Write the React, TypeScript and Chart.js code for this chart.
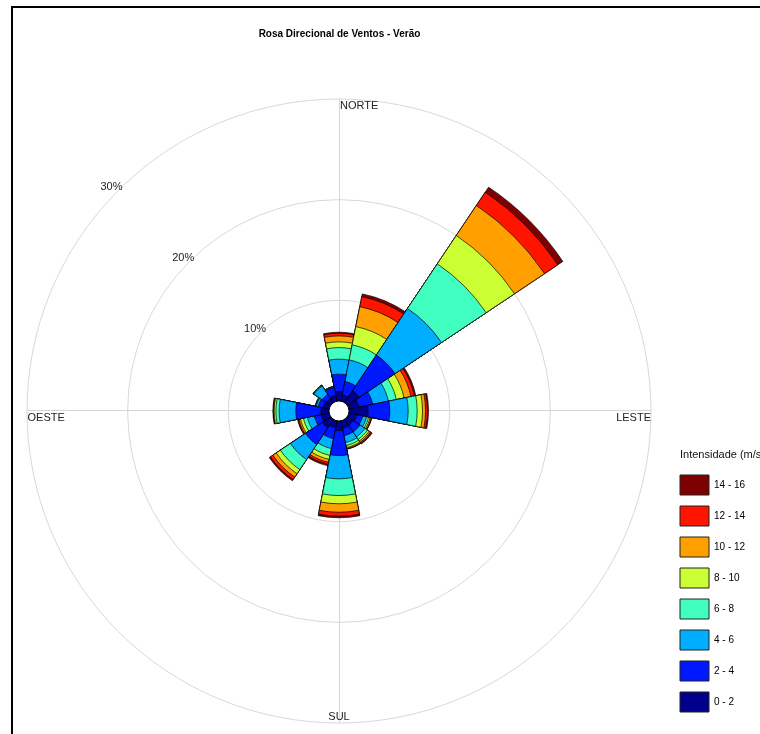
import React, { useEffect, useRef } from 'react';
import { Chart, registerables } from 'chart.js';

Chart.register(...registerables);

const FONT = 'Arial, "Liberation Sans", Helvetica, sans-serif';

const chartTitle = 'Rosa Direcional de Ventos - Verão';
const legendTitle = 'Intensidade (m/s)';

// 16 wind directions, clockwise from north
const directions = ['N', 'NNE', 'NE', 'ENE', 'E', 'ESE', 'SE', 'SSE', 'S', 'SSW', 'SW', 'WSW', 'W', 'WNW', 'NW', 'NNW'];
const cardinalLabels = ['NORTE', 'LESTE', 'SUL', 'OESTE'];

const speedBins = ['0 - 2', '2 - 4', '4 - 6', '6 - 8', '8 - 10', '10 - 12', '12 - 14', '14 - 16'];
const binColors = ['#00008C', '#0018FF', '#00AEFF', '#40FFC0', '#CCFF33', '#FF9F00', '#FF1400', '#7F0000'];

const ringValues = [10, 20, 30];
const ringLabels = ['10%', '20%', '30%'];

// frequency (%) per direction for each speed class
const f0_2 = [0.93, 0.64, 1.42, 1.02, 1.90, 0.80, 0.70, 0.75, 0.94, 0.70, 1.00, 0.80, 0.80, 0.60, 0.50, 0.60];
const f2_4 = [1.73, 1.35, 4.27, 1.39, 2.15, 0.60, 0.80, 0.75, 2.49, 1.10, 2.00, 0.70, 2.49, 0.50, 0.50, 0.80];
const f4_6 = [1.49, 2.19, 5.56, 1.59, 1.82, 0.40, 0.60, 0.70, 2.31, 1.00, 1.80, 0.70, 1.66, 0.20, 1.00, 0.05];
const f6_8 = [1.15, 1.52, 5.33, 0.80, 0.90, 0.20, 0.30, 0.30, 1.66, 0.70, 1.20, 0.40, 0.32, 0.05, 0.05, 0.03];
const f8_10 = [0.57, 1.85, 3.39, 0.79, 0.53, 0.15, 0.20, 0.20, 0.82, 0.40, 0.50, 0.30, 0.17, 0.03, 0.03, 0.02];
const f10_12 = [0.59, 2.02, 3.59, 0.70, 0.30, 0.10, 0.15, 0.10, 0.84, 0.30, 0.40, 0.15, 0.05, 0.02, 0.02, 0.0];
const f12_14 = [0.27, 1.02, 1.59, 0.34, 0.19, 0.05, 0.12, 0.05, 0.39, 0.20, 0.30, 0.10, 0.03, 0.0, 0.0, 0.0];
const f14_16 = [0.10, 0.27, 0.60, 0.15, 0.10, 0.03, 0.08, 0.03, 0.16, 0.15, 0.13, 0.05, 0.05, 0.0, 0.0, 0.0];

const binSeries = [f0_2, f2_4, f4_6, f6_8, f8_10, f10_12, f12_14, f14_16];

const roseDecor = {
  id: 'roseDecor',
  beforeDatasetsDraw(chart: any) {
    const s = chart.scales.r;
    const ctx = chart.ctx;
    const R = s.getDistanceFromCenterForValue(s.max);
    const cx = s.xCenter + 0.5;
    const cy = s.yCenter - 0.5;
    ctx.save();
    ctx.strokeStyle = '#d6d6d6';
    ctx.lineWidth = 1;
    for (let k = 0; k < 4; k++) {
      const a = (k * Math.PI) / 2 - Math.PI / 2;
      ctx.beginPath();
      ctx.moveTo(cx, cy);
      ctx.lineTo(cx + R * Math.cos(a), cy + R * Math.sin(a));
      ctx.stroke();
    }
    ctx.restore();
  },
  afterDatasetsDraw(chart: any) {
    const s = chart.scales.r;
    const ctx = chart.ctx;
    const cx = s.xCenter;
    const cy = s.yCenter;
    const R = s.getDistanceFromCenterForValue(s.max);
    ctx.save();
    // calm circle
    const r0 = s.getDistanceFromCenterForValue(0);
    ctx.beginPath();
    ctx.arc(cx, cy, r0, 0, Math.PI * 2);
    ctx.fillStyle = '#ffffff';
    ctx.fill();
    ctx.lineWidth = 1;
    ctx.strokeStyle = '#000';
    ctx.stroke();

    // ring labels along the north-west diagonal
    ctx.font = '11px ' + FONT;
    ctx.fillStyle = '#222';
    ctx.textAlign = 'center';
    ctx.textBaseline = 'middle';
    const ang = (-45.5 * Math.PI) / 180;
    ringValues.forEach((v, i) => {
      const d = s.getDistanceFromCenterForValue(v) + 7;
      ctx.fillText(ringLabels[i], cx + d * Math.sin(ang), cy - d * Math.cos(ang));
    });

    // cardinal labels
    ctx.textBaseline = 'alphabetic';
    ctx.textAlign = 'left';
    ctx.fillText(cardinalLabels[0], cx + 1, cy - R + 9.5);
    ctx.textAlign = 'right';
    ctx.fillText(cardinalLabels[1], cx + R, cy + 9.5);
    ctx.textAlign = 'center';
    ctx.fillText(cardinalLabels[2], cx, cy + R - 3);
    ctx.textAlign = 'left';
    ctx.fillText(cardinalLabels[3], cx - R + 0.5, cy + 9.5);

    // legend title
    const lg = chart.legend;
    ctx.textAlign = 'left';
    ctx.textBaseline = 'middle';
    ctx.fillStyle = '#111';
    ctx.fillText(legendTitle, lg.left + 11, 455);
    ctx.restore();
  },
};

export default function App() {
  const canvasRef = useRef<HTMLCanvasElement | null>(null);

  useEffect(() => {
    if (!canvasRef.current) return;
    const cumulative: number[][] = [];
    binSeries.forEach((arr, b) => {
      cumulative.push(arr.map((v, i) => (b === 0 ? v : cumulative[b - 1][i] + v)));
    });

    const chart = new Chart(canvasRef.current, {
      type: 'polarArea',
      data: {
        labels: directions,
        datasets: speedBins.map((bin, b) => ({
          label: bin,
          data: cumulative[b],
          backgroundColor: binColors[b],
          borderColor: '#000',
          borderWidth: 0.7,
        })),
      },
      options: {
        responsive: false,
        devicePixelRatio: 1,
        animation: false,
        events: [],
        layout: { padding: { left: 10, right: 11, top: 0, bottom: 11 } },
        scales: {
          r: {
            type: 'radialLinear',
            min: -1,
            max: 30,
            startAngle: -11.25,
            ticks: { display: false, stepSize: 10 },
            grid: {
              circular: true,
              lineWidth: 1,
              color: (c: any) => (c.tick && c.tick.value > 0 ? '#d8d8d8' : 'rgba(0,0,0,0)'),
            },
            angleLines: { display: false },
            pointLabels: { display: false },
          },
        },
        plugins: {
          title: {
            display: true,
            text: chartTitle,
            fullSize: false,
            color: '#000',
            font: { family: FONT, size: 10, weight: 'bold' },
            padding: { top: 28, bottom: 59 },
          },
          legend: {
            position: 'right',
            align: 'end',
            maxWidth: 80,
            labels: {
              boxWidth: 29,
              boxHeight: 20,
              padding: 11,
              color: '#111',
              font: { family: FONT, size: 10 },
              generateLabels: () =>
                speedBins
                  .map((bin, b) => ({
                    text: bin,
                    fillStyle: binColors[b],
                    strokeStyle: '#222',
                    lineWidth: 1,
                    hidden: false,
                    datasetIndex: b,
                  }))
                  .reverse(),
            },
          },
          tooltip: { enabled: false },
        },
      } as any,
      plugins: [roseDecor],
    });
    return () => chart.destroy();
  }, []);

  return (
    <div
      style={{
        position: 'fixed',
        left: 0,
        top: 0,
        width: 760,
        height: 734,
        overflow: 'hidden',
        background: '#fff',
      }}
    >
      <div
        style={{
          position: 'absolute',
          left: 11,
          top: 6,
          width: 1000,
          height: 1000,
          borderLeft: '2px solid #000',
          borderTop: '2px solid #000',
        }}
      />
      <canvas ref={canvasRef} width={760} height={734} style={{ position: 'absolute', left: 0, top: 0 }} />
    </div>
  );
}
